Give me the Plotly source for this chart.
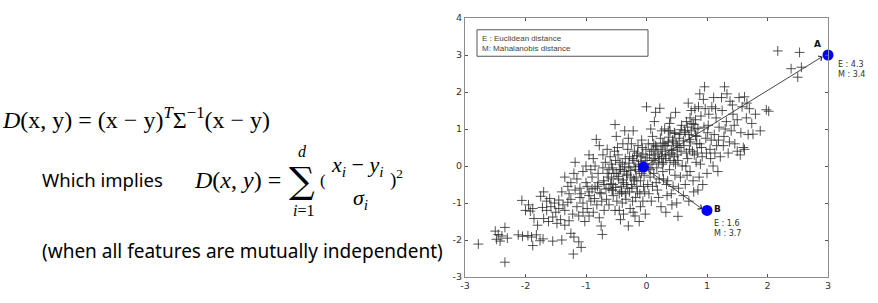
import plotly.graph_objects as go

# ---------------- data ----------------
tail_x = [-2.78, -2.34, -2.50, -2.45, -2.39, -2.34, -2.48, -2.30, -2.42, -2.12, -2.05, -1.96, -1.90, -1.82,
          -2.06, -1.92, -1.88, -1.86, -1.80, -1.88, -2.00, -1.95]
tail_y = [-2.11, -2.60, -1.76, -1.85, -1.89, -1.66, -1.98, -1.95, -2.03, -1.86, -1.90, -1.88, -1.92, -1.86,
          -0.93, -1.22, -1.15, -1.42, -1.60, -2.15, -1.20, -1.05]

left_x = [-1.76, -1.71, -1.55, -1.40, -1.75, -1.70, -1.65, -1.60, -1.52, -1.45, -1.38, -1.30, -1.25, -1.70,
          -1.62, -1.55, -1.48, -1.42, -1.35, -1.28, -1.25, -1.20, -1.21, -1.12, -1.08, -1.65, -1.50, -1.35,
          -1.22, -1.40, -1.30, -1.25, -1.35, -1.20, -1.18, -1.28, -1.45, -1.58, -1.72]
left_y = [-2.02, -1.97, -2.03, -2.00, -0.82, -0.70, -0.95, -0.88, -1.00, -0.92, -1.05, -0.98, -0.90, -1.42,
          -1.50, -1.38, -1.55, -1.45, -1.60, -1.48, -1.82, -1.92, -2.38, -2.05, -2.20, -1.20, -1.25, -1.20,
          -1.30, -0.70, -0.55, -0.45, -0.30, -0.20, 0.10, -0.75, -1.15, -1.10, -1.12]

midl_x = [-1.15, -1.10, -1.05, -1.00, -0.95, -0.90, -0.85, -0.83, -0.78, -0.72, -0.68, -0.65, -1.10, -1.05,
          -0.98, -0.92, -0.88, -0.82, -0.78, -0.75, -0.73, -0.70, -0.66, -0.62, -1.12, -1.02, -0.95, -1.15,
          -1.08, -0.98, -0.92, -0.88, -0.80, -0.75, -0.70, -0.65, -0.62, -1.00, -0.95, -0.85, -0.80, -0.72,
          -0.60, -1.18, -1.05]
midl_y = [-0.35, -0.60, -0.15, -0.45, -0.70, -0.30, 0.00, 0.72, 0.55, 0.30, 0.10, -0.20, -0.85, -1.00,
          -1.15, -0.95, -1.25, -1.05, -1.40, -1.62, -1.85, -1.20, -0.90, -0.60, -1.35, -1.50, -1.35, -1.10,
          -0.75, -0.55, -0.10, 0.20, -0.45, -0.75, -0.50, 0.45, -1.05, 0.00, 0.30, -0.60, -0.20, -0.05,
          0.25, -0.65, -1.25]

core_x = [-0.58, -0.55, -0.52, -0.50, -0.48, -0.45, -0.42, -0.40, -0.38, -0.35, -0.32, -0.30, -0.28, -0.25,
          -0.22, -0.20, -0.18, -0.15, -0.12, -0.10, -0.08, -0.05, -0.02, 0.00, -0.58, -0.55, -0.52, -0.50,
          -0.47, -0.45, -0.43, -0.40, -0.38, -0.36, -0.34, -0.31, -0.29, -0.27, -0.24, -0.21, -0.19, -0.17,
          -0.14, -0.11, -0.09, -0.06, -0.04, -0.01, -0.56, -0.53, -0.49, -0.46, -0.44, -0.41, -0.37, -0.33,
          -0.30, -0.26, -0.23, -0.20, -0.16, -0.13, -0.10, -0.07, -0.03, -0.57, -0.51, -0.39, -0.28, -0.18,
          -0.08, -0.35, -0.25, -0.15, -0.45, -0.02, -0.12, -0.22]
core_y = [-0.35, -0.80, 1.12, 0.80, 0.50, -0.10, -0.55, -1.00, -1.30, 0.20, -0.25, -1.62, -0.70, 0.60,
          0.95, -0.40, -0.85, 0.35, -0.15, -1.10, 0.70, -0.55, 0.15, 1.60, 0.05, -0.50, -1.20, -0.20,
          0.30, -0.75, -1.45, 0.05, -0.45, 0.95, -0.90, 0.45, -0.05, -1.15, -0.60, 0.15, -1.35, -0.30,
          0.55, -0.75, 0.25, -0.95, -0.25, 0.45, -0.05, 0.40, -0.95, -0.35, 0.10, -0.70, -0.15, -0.50,
          0.75, -0.30, -0.95, 0.40, -0.55, 0.00, -0.40, 0.50, -0.70, -0.65, 0.15, 0.60, 0.25, -0.10,
          -0.20, -0.75, -0.50, -0.70, -1.20, -1.30, -1.50, -1.25]

dense_x = [-0.95, -0.90, -0.86, -0.81, -0.77, -0.71, -0.67, -0.63, -0.59, -0.54, -0.51, -0.47, -0.43, -0.39,
           -0.36, -0.33, -0.29, -0.26, -0.23, -0.19, -0.16, -0.13, -0.09, -0.06, 0.01, 0.04, 0.08, 0.11,
           0.14, 0.17, 0.21, 0.24, 0.27, 0.31, 0.34, 0.37, 0.41, 0.44, 0.47, 0.51, 0.54, 0.57, 0.61, 0.64,
           0.68, 0.71, 0.74, 0.78, 0.81, 0.85, -0.74, -0.56, -0.41, -0.21, 0.06, 0.26, 0.46, 0.66, 0.83,
           -0.62, -0.31, 0.12, 0.39, 0.72]
dense_y = [-0.80, -0.62, -0.88, -0.55, -0.72, -0.40, -0.62, -0.30, -0.48, -0.20, -0.58, -0.28, -0.10, -0.38,
           -0.02, -0.22, 0.08, -0.12, 0.20, -0.02, 0.28, 0.05, 0.12, 0.32, 0.22, -0.05, 0.40, 0.15, 0.30,
           0.52, 0.20, 0.45, 0.62, 0.30, 0.55, 0.78, 0.42, 0.65, 0.88, 0.55, 0.75, 0.98, 0.68, 0.90, 1.05,
           0.72, 0.95, 1.12, 0.82, 1.02, -0.95, -0.65, -0.70, -0.35, -0.10, 0.05, 0.25, 0.35, 0.60,
           -0.10, -0.60, 0.60, 0.95, 1.30]

midr_x = [0.02, 0.05, 0.08, 0.10, 0.12, 0.15, 0.18, 0.20, 0.22, 0.24, 0.26, 0.28, 0.30, 0.32, 0.34, 0.36,
          0.38, 0.40, 0.42, 0.44, 0.46, 0.48, 0.50, 0.52, 0.54, 0.56, 0.58, 0.03, 0.06, 0.09, 0.13, 0.16,
          0.19, 0.23, 0.27, 0.31, 0.35, 0.39, 0.43, 0.47, 0.51, 0.55, 0.59, 0.04, 0.11, 0.17, 0.21, 0.25,
          0.29, 0.33, 0.37, 0.41, 0.45, 0.49, 0.53, 0.57, 0.07, 0.14, 0.28, 0.36, 0.44, 0.52, 0.20, 0.10,
          0.32, 0.42, 0.15, 0.48, 0.38, 0.25]
midr_y = [-0.50, 0.30, -0.95, 0.80, -0.20, 0.55, -0.65, 0.10, 1.56, -1.10, 0.40, -0.35, 1.00, 0.20, -0.80,
          0.65, -0.10, 1.30, 0.35, -0.55, 0.90, 0.05, -1.00, -1.36, 0.50, -0.30, 1.10, 0.60, -0.30, 0.05,
          1.20, -0.45, 0.35, 0.75, -0.15, 0.55, -0.40, 0.15, 0.70, -0.25, 0.30, 0.85, 0.00, -0.75, 0.45,
          -0.05, -0.35, 0.95, 0.60, -0.50, 0.30, -0.75, 0.10, 0.60, -0.60, 0.40, 1.00, 0.20, 0.10, 0.95,
          0.45, 0.15, -0.85, -0.55, -1.25, -1.05, 1.45, 1.45, 1.15, 0.25]

right_x = [0.62, 0.64, 0.66, 0.68, 0.70, 0.72, 0.74, 0.76, 0.78, 0.80, 0.82, 0.85, 0.88, 0.90, 0.92, 0.94,
           0.96, 0.98, 1.00, 1.02, 1.05, 1.08, 1.10, 1.12, 1.15, 1.18, 0.63, 0.67, 0.71, 0.75, 0.79, 0.83,
           0.87, 0.91, 0.95, 0.99, 1.03, 1.07, 1.11, 1.16, 1.20, 0.65, 0.73, 0.81, 0.89, 0.97, 1.06, 1.14,
           0.69, 0.86, 1.01, 0.77, 0.93, 0.84, 1.13, 1.19, 0.61, 0.70, 0.80, 0.88]
right_y = [0.55, -0.50, 1.20, 0.20, 0.85, -0.15, 1.50, 0.40, -0.70, 1.00, 0.10, -0.65, 0.60, 1.35, 0.25,
           1.80, 2.14, 0.75, -0.20, 1.10, 0.45, 1.60, 0.00, 0.85, 1.30, -0.15, 0.95, -0.25, 0.45, 1.15,
           0.30, 0.80, -0.30, 0.50, 1.05, 0.35, 1.40, 0.70, 1.85, 0.55, 1.05, 0.00, 0.65, 1.25, 0.05, 1.55,
           0.20, 1.55, 1.70, 1.60, 0.90, -0.40, -0.50, 0.35, 0.35, 0.70, -0.80, -0.95, 1.55, 1.95]

far_x = [1.22, 1.25, 1.28, 1.29, 1.32, 1.35, 1.38, 1.40, 1.43, 1.46, 1.50, 1.53, 1.56, 1.60, 1.62, 1.65,
         1.68, 1.70, 1.74, 1.76, 1.80, 1.24, 1.33, 1.27, 1.45, 1.58, 1.50, 1.37, 1.42, 1.66, 1.98, 2.02,
         1.30, 1.55, 1.62, 1.88, 2.17, 2.53, 2.39, 2.56, 2.50]
far_y = [0.25, 1.50, 0.80, 2.14, 1.20, 0.35, 1.75, 0.95, 1.40, 0.60, 1.25, 1.85, 0.90, 0.50, 1.87, 1.30,
         0.85, 1.55, 1.15, 0.86, 1.40, 1.85, 1.95, 0.55, 1.10, 1.60, 0.40, 0.65, 1.65, 1.70, 1.52, 1.48,
         1.00, 0.30, 0.45, 0.95, 3.11, 3.07, 2.63, 2.67, 2.40]

special_names = ["center", "A", "B"]
special_x = [-0.05, 3.0, 1.0]
special_y = [-0.03, 3.0, -1.2]
euclid = {"A": "4.3", "B": "1.6"}
mahal = {"A": "3.4", "B": "3.7"}

x_ticks = [-3, -2, -1, 0, 1, 2, 3]
y_ticks = [-3, -2, -1, 0, 1, 2, 3, 4]

# ---------------- figure ----------------
W, H = 878, 303
L, R, T, B = 465, 50, 18, 21
PW, PH = W - L - R, H - T - B
X0, X1, Y0, Y1 = -3, 3, -3, 4


def px(x):  # pixel -> paper x
    return (x - L) / PW


def py(y):  # pixel -> paper y
    return (H - B - y) / PH


def dx2paper(v):  # data x -> paper x
    return (v - X0) / (X1 - X0)


def dy2paper(v):  # data y -> paper y
    return (v - Y0) / (Y1 - Y0)


xs = tail_x + left_x + midl_x + core_x + dense_x + midr_x + right_x + far_x
ys = tail_y + left_y + midl_y + core_y + dense_y + midr_y + right_y + far_y

fig = go.Figure()
fig.add_trace(go.Scatter(
    x=xs, y=ys, mode="markers",
    marker=dict(symbol="cross-thin", size=7,
                line=dict(width=1, color="rgba(40,40,40,0.8)")),
    hoverinfo="skip", showlegend=False))

# arrows from center to A and B
cx, cy = special_x[0], special_y[0]
for name, tipdx, tipdy in [("A", -0.09, -0.04), ("B", -0.08, 0.04)]:
    i = special_names.index(name)
    fig.add_annotation(x=special_x[i] + tipdx, y=special_y[i] + tipdy, ax=cx, ay=cy,
                       xref="x", yref="y", axref="x", ayref="y", text="",
                       showarrow=True, arrowhead=4, arrowsize=1.2, arrowwidth=0.9,
                       arrowcolor="#333333", standoff=0, startstandoff=0)

fig.add_trace(go.Scatter(
    x=special_x, y=special_y, mode="markers",
    marker=dict(symbol="circle", size=11, color="#0000ff"),
    hoverinfo="skip", showlegend=False, cliponaxis=False))

label_font = dict(family="DejaVu Sans", size=8, color="#333333")
iA = special_names.index("A")
iB = special_names.index("B")
fig.add_annotation(x=special_x[iA] - 0.08, y=special_y[iA] + 0.12, xref="x", yref="y",
                   text="<b>A</b>", showarrow=False, xanchor="right", yanchor="bottom",
                   font=dict(family="DejaVu Sans", size=9, color="#111111"))
fig.add_annotation(x=dx2paper(special_x[iA]) + 0.022, y=dy2paper(special_y[iA] - 0.08),
                   xref="paper", yref="paper",
                   text=f"E : {euclid['A']}<br>M : {mahal['A']}", showarrow=False,
                   xanchor="left", yanchor="top", align="left", font=label_font)
fig.add_annotation(x=special_x[iB] + 0.09, y=special_y[iB] + 0.05, xref="x", yref="y",
                   text="<b>B</b>", showarrow=False, xanchor="left", yanchor="middle",
                   font=dict(family="DejaVu Sans", size=9, color="#111111"))
fig.add_annotation(x=special_x[iB] + 0.09, y=special_y[iB] - 0.18, xref="x", yref="y",
                   text=f"E : {euclid['B']}<br>M : {mahal['B']}", showarrow=False,
                   xanchor="left", yanchor="top", align="left", font=label_font)

# legend box
fig.add_shape(type="rect", xref="paper", yref="paper",
              x0=px(477), x1=px(648), y0=py(57), y1=py(30),
              line=dict(color="#555555", width=1), fillcolor="white")
fig.add_annotation(xref="paper", yref="paper", x=px(480), y=py(43.5),
                   text="E : Euclidean distance<br>M: Mahalanobis distance",
                   showarrow=False, xanchor="left", yanchor="middle", align="left",
                   font=dict(family="Liberation Sans", size=8, color="#444444"))

# ---------------- left-side formulas ----------------
serif = "Liberation Serif"
sans = "Noto Sans"
fig.add_annotation(xref="paper", yref="paper", x=px(0), y=py(120),
                   text="<i>D</i>(x, y) = (x − y)<sup><i>T</i></sup>Σ<sup>−1</sup>(x − y)",
                   showarrow=False, xanchor="left", yanchor="middle",
                   font=dict(family=serif, size=24, color="black"))
fig.add_annotation(xref="paper", yref="paper", x=px(40), y=py(183),
                   text="Which implies", showarrow=False, xanchor="left", yanchor="middle",
                   font=dict(family=sans, size=18.5, color="black"))
fig.add_annotation(xref="paper", yref="paper", x=px(192), y=py(183),
                   text="<i>D</i>(<i>x</i>, <i>y</i>) =", showarrow=False,
                   xanchor="left", yanchor="middle",
                   font=dict(family=serif, size=24, color="black"))
fig.add_annotation(xref="paper", yref="paper", x=px(302), y=py(184),
                   text="∑", showarrow=False, xanchor="center", yanchor="middle",
                   font=dict(family="DejaVu Serif", size=36, color="black"))
fig.add_annotation(xref="paper", yref="paper", x=px(302), y=py(154),
                   text="<i>d</i>", showarrow=False, xanchor="center", yanchor="middle",
                   font=dict(family=serif, size=16, color="black"))
fig.add_annotation(xref="paper", yref="paper", x=px(303), y=py(214),
                   text="<i>i</i>=1", showarrow=False, xanchor="center", yanchor="middle",
                   font=dict(family=serif, size=16, color="black"))
fig.add_annotation(xref="paper", yref="paper", x=px(318), y=py(184),
                   text="(", showarrow=False, xanchor="left", yanchor="middle",
                   font=dict(family=serif, size=17, color="black"))
fig.add_annotation(xref="paper", yref="paper", x=px(357), y=py(169),
                   text="<i>x<sub>i</sub></i> − <i>y<sub>i</sub></i>", showarrow=False,
                   xanchor="center", yanchor="middle",
                   font=dict(family=serif, size=22, color="black"))
fig.add_annotation(xref="paper", yref="paper", x=px(360), y=py(203),
                   text="<i>σ<sub>i</sub></i>", showarrow=False,
                   xanchor="center", yanchor="middle",
                   font=dict(family=serif, size=22, color="black"))
fig.add_annotation(xref="paper", yref="paper", x=px(388), y=py(182),
                   text=")<sup>2</sup>", showarrow=False, xanchor="left", yanchor="middle",
                   font=dict(family=serif, size=19, color="black"))
fig.add_annotation(xref="paper", yref="paper", x=px(40), y=py(256),
                   text="(when all features are mutually independent)", showarrow=False,
                   xanchor="left", yanchor="middle",
                   font=dict(family=sans, size=19, color="black"))

axis_common = dict(showgrid=False, zeroline=False, showline=True, linecolor="#8c8c8c",
                   linewidth=1, mirror="allticks", ticks="inside", ticklen=3,
                   tickcolor="#555555", tickwidth=1,
                   tickfont=dict(family="DejaVu Sans", size=9.5, color="#333333"))
fig.update_xaxes(range=[X0, X1], tickvals=x_ticks, ticktext=[str(v) for v in x_ticks], **axis_common)
fig.update_yaxes(range=[Y0, Y1], tickvals=y_ticks, ticktext=[str(v) for v in y_ticks], **axis_common)

fig.update_layout(width=W, height=H, margin=dict(l=L, r=R, t=T, b=B),
                  paper_bgcolor="white", plot_bgcolor="white", showlegend=False)

fig.write_html("out.html")
